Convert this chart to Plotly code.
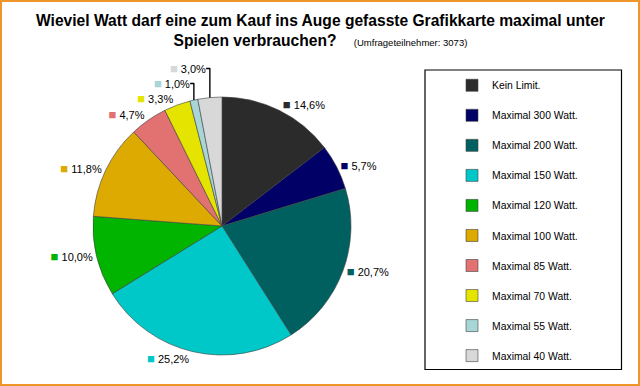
import plotly.graph_objects as go

categories = ["Kein Limit.", "Maximal 300 Watt.", "Maximal 200 Watt.", "Maximal 150 Watt.",
              "Maximal 120 Watt.", "Maximal 100 Watt.", "Maximal 85 Watt.", "Maximal 70 Watt.",
              "Maximal 55 Watt.", "Maximal 40 Watt."]
values = [14.6, 5.7, 20.7, 25.2, 10.0, 11.8, 4.7, 3.3, 1.0, 3.0]
colors = ["#2b2b2b", "#000066", "#006060", "#00c8c8", "#00b400",
          "#dcaa00", "#e27272", "#e4e400", "#a8d6d6", "#d8d8d8"]

title_main = "Wieviel Watt darf eine zum Kauf ins Auge gefasste Grafikkarte maximal unter<br>Spielen verbrauchen?"
title_sub = "(Umfrageteilnehmer: 3073)"

W, H = 640, 386
FONT = "Arial, Liberation Sans, sans-serif"

def px(x):
    return x / W

def py(y):
    return 1 - y / H

fig = go.Figure()
fig.add_trace(go.Pie(
    labels=[c + "<br> " for c in categories],
    values=values,
    customdata=colors,
    sort=False,
    direction="clockwise",
    rotation=0,
    marker=dict(colors=colors, line=dict(color="#404040", width=0.6)),
    textposition="outside",
    texttemplate='<span style="color:%{customdata};font-size:13px">■</span> %{value:.1f}%',
    outsidetextfont=dict(family=FONT, size=11, color="#000000"),
    hovertemplate="%{label}: %{value:.1f}%<extra></extra>",
    domain=dict(x=[px(93), px(351)], y=[py(355), py(97)]),
))

fig.update_layout(
    width=W, height=H,
    margin=dict(l=0, r=0, t=0, b=0),
    paper_bgcolor="white",
    plot_bgcolor="white",
    separators=",.",
    font=dict(family=FONT, color="#000000"),
    annotations=[dict(
        text="<b>" + title_main + "</b>    <span style='font-size:9.5px'>" + title_sub + "</span>",
        x=0.5, xanchor="center", xref="paper",
        y=py(10), yanchor="top", yref="paper",
        showarrow=False, align="center",
        font=dict(family=FONT, size=15.6, color="#000000"),
    )],
    legend=dict(
        x=px(452), xanchor="left", y=py(72), yanchor="top",
        font=dict(family=FONT, size=10.4, color="#000000"),
        bgcolor="rgba(0,0,0,0)", borderwidth=0,
        valign="top", itemwidth=30,
    ),
    shapes=[
        dict(type="rect", xref="paper", yref="paper",
             x0=px(425), x1=px(621.5), y0=py(369.5), y1=py(70),
             line=dict(color="#000000", width=1.2), fillcolor="rgba(0,0,0,0)", layer="below"),
        dict(type="rect", xref="paper", yref="paper",
             x0=px(1), x1=px(639), y0=py(385), y1=py(1),
             line=dict(color="#f0952a", width=2), fillcolor="rgba(0,0,0,0)", layer="above"),
    ],
)

fig.write_html("out.html", config={"displayModeBar": False},
               post_script="document.body.style.margin='0px';")
